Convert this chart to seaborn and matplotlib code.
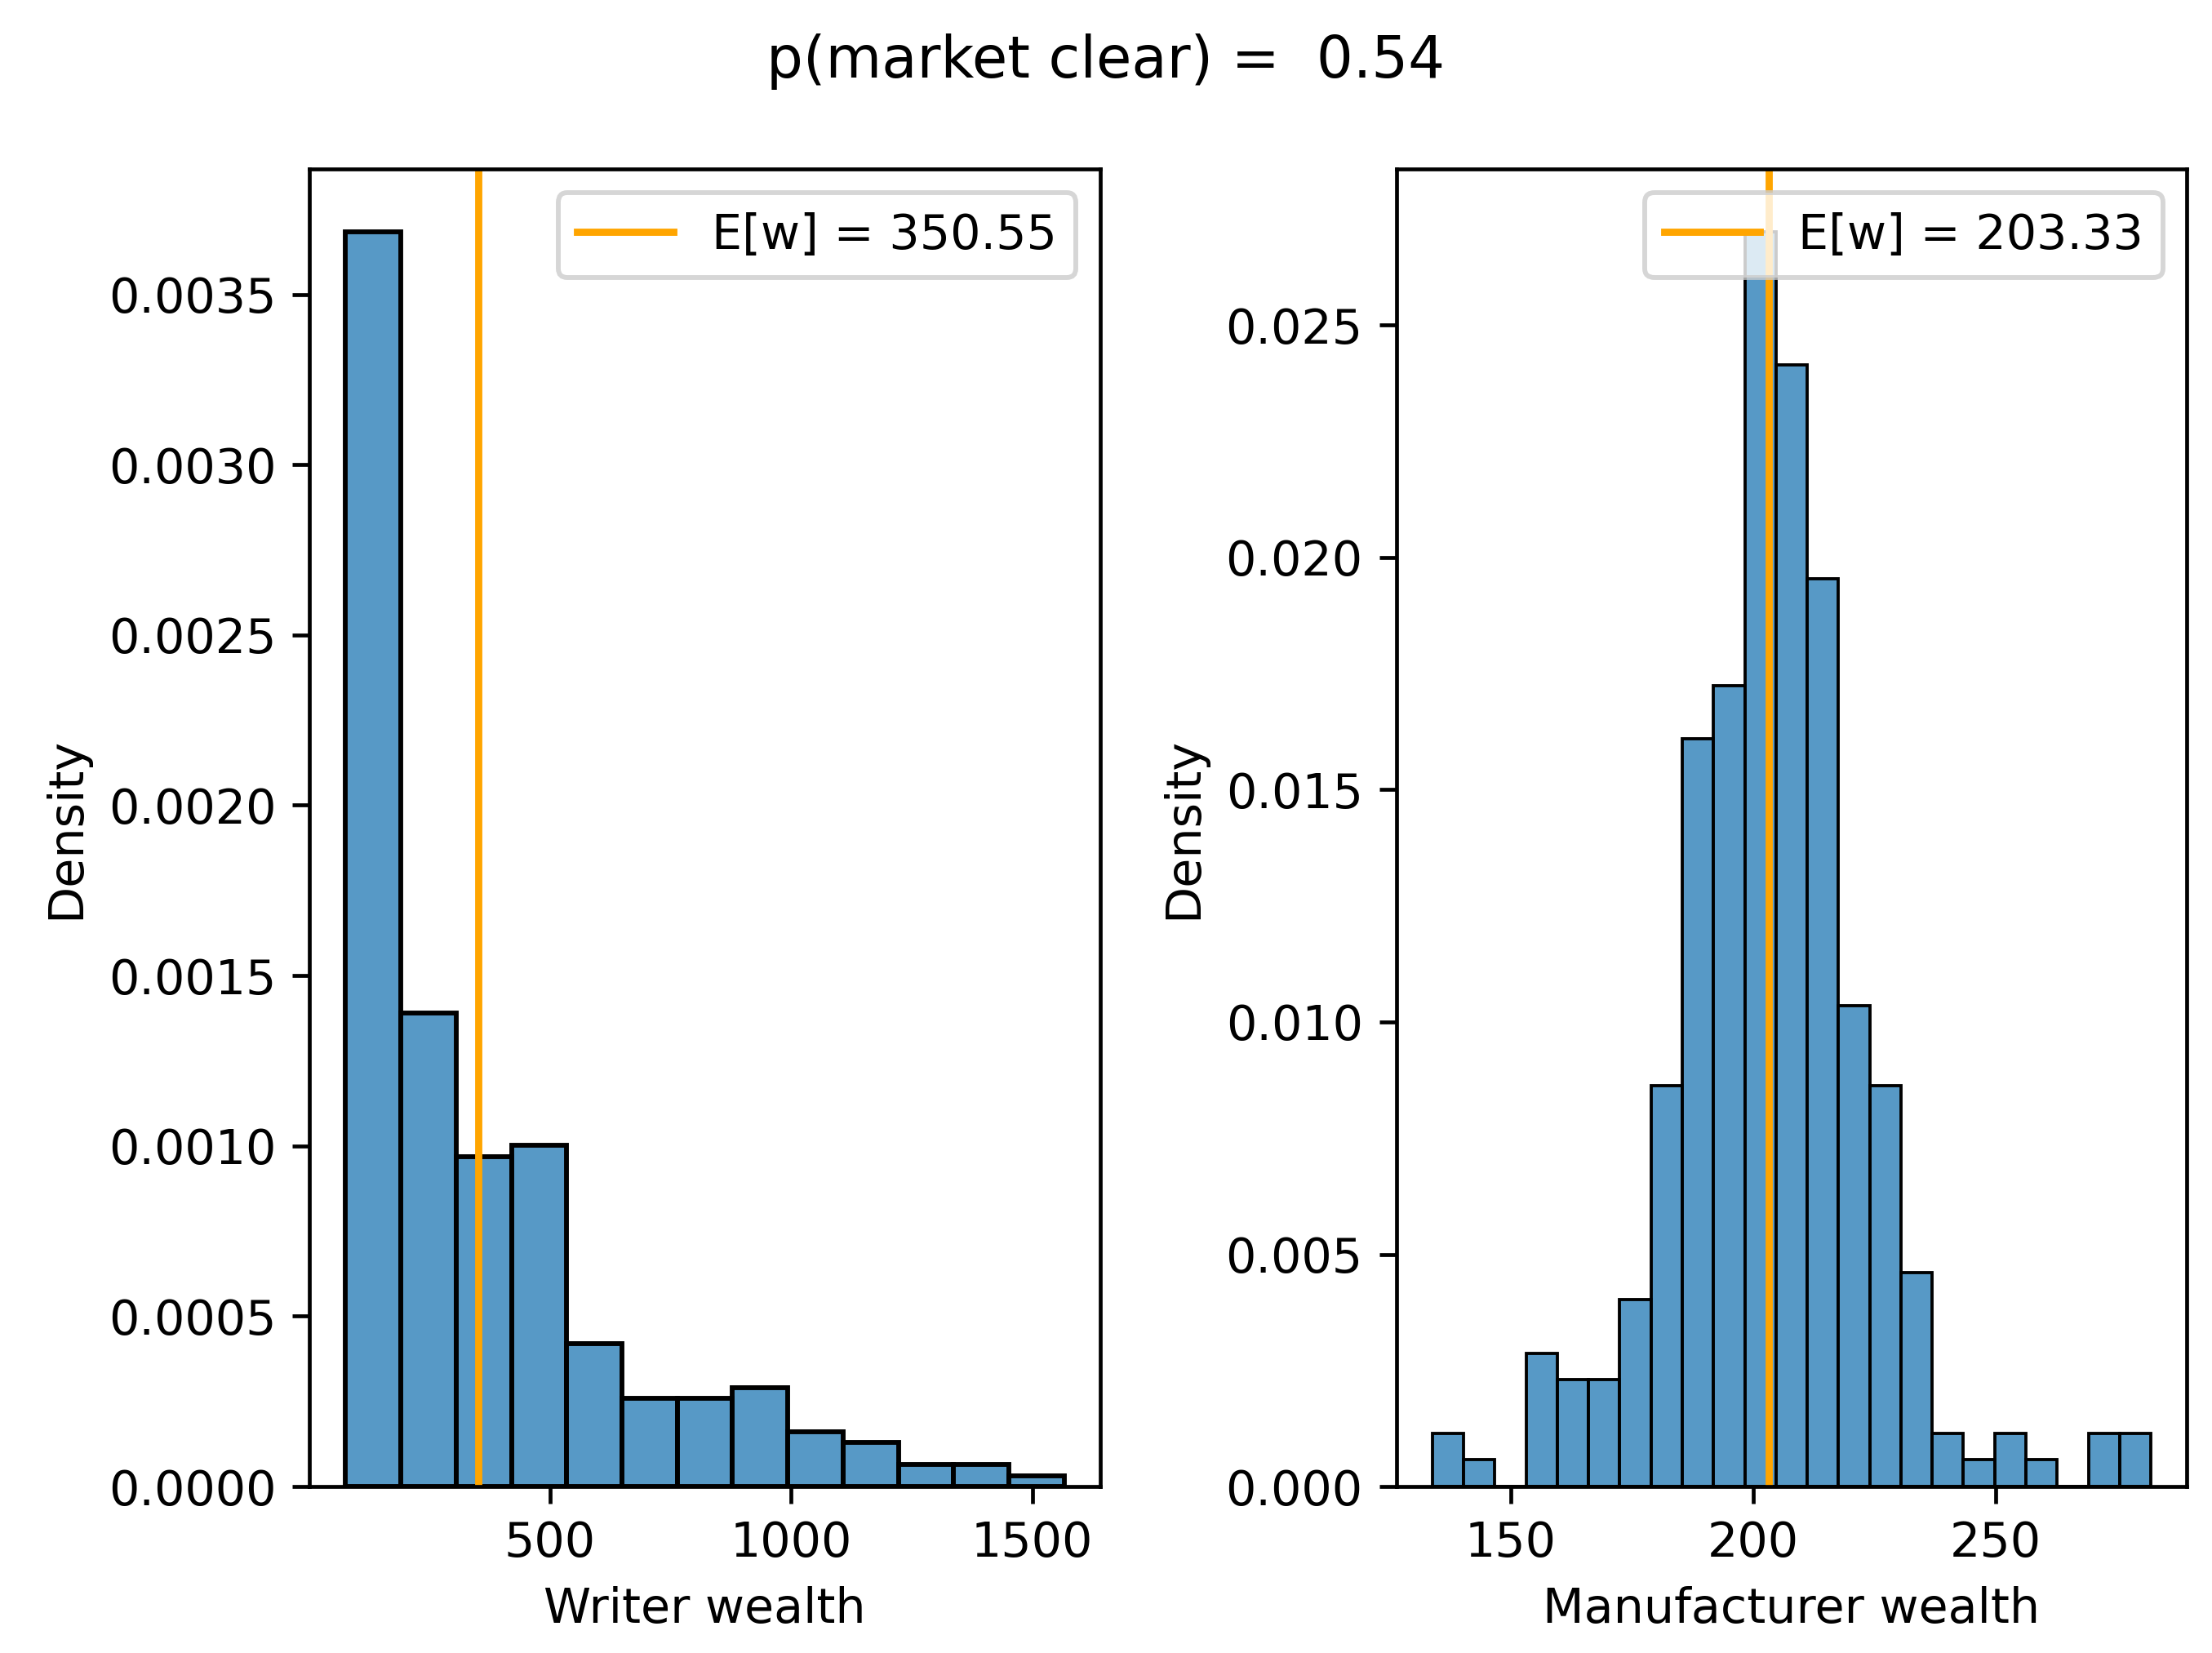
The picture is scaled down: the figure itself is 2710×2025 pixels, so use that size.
import matplotlib
matplotlib.use("Agg")
import matplotlib.pyplot as plt
import seaborn as sns
import numpy as np
import pandas as pd

# writer wealth histogram: bin range, number of bins, counts per bin
writer_lo, writer_hi, writer_nbins = 76.0, 1566.0, 13
writer_counts = [114, 43, 30, 31, 13, 8, 8, 9, 5, 4, 2, 2, 1]
writer_mean = 350.55

# manufacturer wealth histogram
manu_lo, manu_hi, manu_nbins = 133.85, 282.07, 23
manu_counts = [2, 1, 0, 5, 4, 4, 7, 15, 28, 30, 47, 42, 34, 18, 15, 8,
               2, 1, 2, 1, 0, 2, 2]
manu_mean = 203.33

p_clear = 0.54

fig, axes = plt.subplots(1, 2, figsize=(2710 / 423.4, 2025 / 423.4), dpi=423.4)
fig.subplots_adjust(left=0.140, right=0.9886, top=0.8978, bottom=0.1007, wspace=0.375)

panels = [
    (writer_lo, writer_hi, writer_nbins, writer_counts, writer_mean, "Writer wealth"),
    (manu_lo, manu_hi, manu_nbins, manu_counts, manu_mean, "Manufacturer wealth"),
]

for ax, (lo, hi, nb, counts, mean, xlabel) in zip(axes, panels):
    edges = np.linspace(lo, hi, nb + 1)
    df = pd.DataFrame({"wealth": (edges[:-1] + edges[1:]) / 2, "n": counts})
    sns.histplot(data=df, x="wealth", weights="n", bins=nb, binrange=(lo, hi),
                 stat="density", ax=ax)
    ax.axvline(mean, color="orange", label="E[w] = %.2f" % mean)
    ax.legend(loc="upper right")
    ax.set_xlabel(xlabel)
    ax.set_ylabel("Density")

fig.suptitle("p(market clear) =  %.2f" % p_clear)

fig.savefig("out.png", dpi=423.4)
